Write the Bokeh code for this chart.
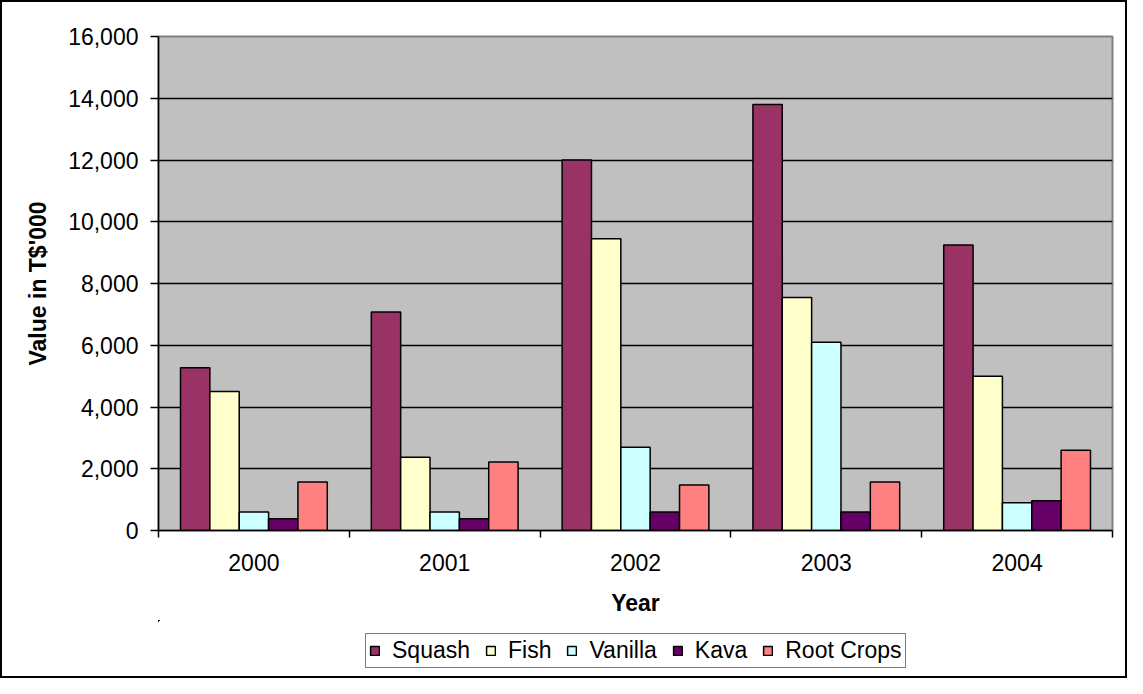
from bokeh.plotting import figure
from bokeh.layouts import column
from bokeh.models import (ColumnDataSource, FixedTicker, NumeralTickFormatter,
                          Legend, LegendItem, Range1d)
from bokeh.embed import file_html
from bokeh.resources import INLINE

years = ["2000", "2001", "2002", "2003", "2004"]
series = ["Squash", "Fish", "Vanilla", "Kava", "Root Crops"]
squash = [5270, 7080, 12000, 13800, 9250]
fish = [4500, 2370, 9450, 7550, 5000]
vanilla = [600, 600, 2700, 6100, 900]
kava = [380, 380, 600, 600, 960]
root_crops = [1570, 2220, 1470, 1570, 2600]
colors = ["#993366", "#FFFFCC", "#CCFFFF", "#660066", "#FF8080"]
y_ticks = [0, 2000, 4000, 6000, 8000, 10000, 12000, 14000, 16000]

values = [squash, fish, vanilla, kava, root_crops]
n_years = len(years)
bar_w = 1.0 / 6.5

FONT = "Liberation Sans"
FS = "23px"
W = 1123

p = figure(width=W, height=618, output_backend="svg", toolbar_location=None,
           x_range=Range1d(0, n_years), y_range=Range1d(0, 16000),
           min_border_left=156, min_border_right=13, min_border_top=34,
           min_border_bottom=90)
p.background_fill_color = "#C0C0C0"
p.border_fill_color = "white"
p.outline_line_color = "#808080"
p.outline_line_width = 2

# legend strip below the chart (same bars, kept far outside its view range)
pl = figure(width=W, height=56, output_backend="svg", toolbar_location=None,
            x_axis_type=None, y_axis_type=None, min_border=0,
            x_range=Range1d(1000, 1001), y_range=Range1d(-100000, -99999))
pl.outline_line_color = None
pl.grid.grid_line_color = None
pl.background_fill_color = "white"
pl.border_fill_color = "white"

items = []
for i, (name, vals, col) in enumerate(zip(series, values, colors)):
    xs = [j + 0.5 + (i - 2) * bar_w for j in range(n_years)]
    src = ColumnDataSource(dict(x=xs, top=vals))
    p.vbar(x="x", top="top", width=bar_w, bottom=0, source=src,
           fill_color=col, line_color="black", line_width=1.5)
    r = pl.vbar(x="x", top="top", width=bar_w, bottom=0, source=src,
                fill_color=col, line_color="black", line_width=1.5)
    items.append(LegendItem(label=name, renderers=[r]))

# x axis: labels at category centres, ticks at category boundaries
p.xaxis.ticker = FixedTicker(ticks=[j + 0.5 for j in range(n_years)],
                             minor_ticks=list(range(n_years + 1)))
p.xaxis.major_label_overrides = {j + 0.5: y for j, y in enumerate(years)}
p.xaxis.major_tick_line_color = None
p.xaxis.minor_tick_line_color = "black"
p.xaxis.minor_tick_line_width = 1.5
p.xaxis.minor_tick_out = 7
p.xaxis.minor_tick_in = 0
p.xaxis.axis_line_color = "black"
p.xaxis.axis_line_width = 1.5
p.xaxis.major_label_text_font = FONT
p.xaxis.major_label_text_font_size = FS
p.xaxis.major_label_text_color = "black"
p.xaxis.major_label_standoff = 16
p.xaxis.axis_label = "Year"
p.xaxis.axis_label_text_font = FONT
p.xaxis.axis_label_text_font_size = FS
p.xaxis.axis_label_text_font_style = "bold"
p.xaxis.axis_label_text_color = "black"
p.xaxis.axis_label_standoff = 16

p.yaxis.ticker = FixedTicker(ticks=y_ticks)
p.yaxis.formatter = NumeralTickFormatter(format="0,0")
p.yaxis.major_tick_line_color = "black"
p.yaxis.major_tick_line_width = 1.5
p.yaxis.major_tick_out = 8
p.yaxis.major_tick_in = 0
p.yaxis.minor_tick_line_color = None
p.yaxis.axis_line_color = "black"
p.yaxis.axis_line_width = 1.5
p.yaxis.major_label_text_font = FONT
p.yaxis.major_label_text_font_size = FS
p.yaxis.major_label_text_color = "black"
p.yaxis.major_label_standoff = 12
p.yaxis.axis_label = "Value in T$'000"
p.yaxis.axis_label_text_font = FONT
p.yaxis.axis_label_text_font_size = FS
p.yaxis.axis_label_text_font_style = "bold"
p.yaxis.axis_label_text_color = "black"
p.yaxis.axis_label_standoff = 14

p.xgrid.grid_line_color = None
p.ygrid.ticker = FixedTicker(ticks=y_ticks[1:-1])
p.ygrid.grid_line_color = "black"
p.ygrid.grid_line_width = 1.5

legend = Legend(items=items, orientation="horizontal", location=(207, 8),
                glyph_width=11, glyph_height=11, label_standoff=12, spacing=15,
                padding=3, margin=0,
                label_text_font=FONT, label_text_font_size=FS,
                label_text_color="black", label_height=23,
                border_line_color="black", border_line_width=1.5,
                background_fill_color="white", background_fill_alpha=1)
pl.add_layout(legend, "center")

layout = column(p, pl, spacing=0,
                styles={"border": "2px solid black", "background-color": "white"})

open("out.html", "w").write(file_html(layout, INLINE))
